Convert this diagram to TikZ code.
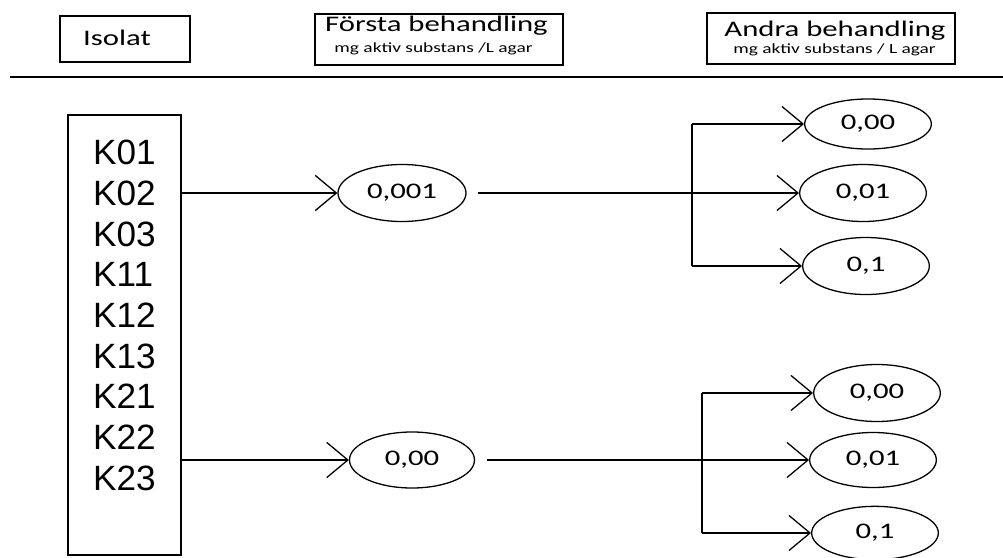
\documentclass[tikz,border=0pt]{standalone}
\usepackage{fontspec}
\newfontfamily\hdrfont[FakeStretch=1.38]{Carlito}
\newfontfamily\listfont{Liberation Sans}
\usetikzlibrary{shapes.geometric,arrows.meta}

\tikzset{
  hbox/.style={draw,line width=1.2pt,inner sep=0pt},
  htitle/.style={inner sep=0pt,anchor=base,font=\hdrfont\fontsize{19}{21}\selectfont},
  hsub/.style={inner sep=0pt,anchor=base,font=\hdrfont\fontsize{12}{14}\selectfont},
  dose/.style={draw,ellipse,line width=1.1pt,inner sep=0pt,minimum width=3.8cm,minimum height=1.65cm,font=\hdrfont\fontsize{19}{21}\selectfont},
  flow/.style={line width=1.1pt,-{Straight Barb[length=18pt,width=30pt,line width=1.1pt]}},
}

\begin{document}
\begin{tikzpicture}[x=0.03cm,y=-0.03cm]
	\useasboundingbox (0,0) rectangle (1003,558);
	\node[hbox,minimum width=3.9cm,minimum height=1.38cm] (isolat) at (125,39) {};
	\node[htitle] (isolatT) at (117,45) {Isolat};
	\node[hbox,minimum width=7.44cm,minimum height=1.53cm] (forsta) at (439,39.5) {};
	\node[htitle] (forstaT) at (436.5,31) {Första behandling};
	\node[hsub] (forstaS) at (433.5,52) {mg aktiv substans /L agar};
	\node[hbox,minimum width=7.44cm,minimum height=1.53cm] (andra) at (831,38.5) {};
	\node[htitle] (andraT) at (835,36) {Andra behandling};
	\node[hsub] (andraS) at (834.5,53) {mg aktiv substans / L agar};
	\draw[line width=1.6pt] (10,77) -- (1003,77);

	\node[hbox,minimum width=3.39cm,minimum height=13.2cm] (kbox) at (124.5,335) {};
	\node[inner sep=0pt,anchor=north west,align=left,font=\listfont\fontsize{30}{34.7}\selectfont] (klist) at (93,140)
		{K01\\K02\\K03\\K11\\K12\\K13\\K21\\K22\\K23};

	\node[dose,minimum width=3.84cm,minimum height=1.71cm] (first1) at (402,193) {0,001};
	\node[dose,minimum width=3.75cm,minimum height=1.68cm] (first2) at (412,460) {0,00};

	\node[dose,minimum height=1.5cm] (a1) at (868,124) {0,00};
	\node[dose,minimum height=1.71cm] (a2) at (863,193) {0,01};
	\node[dose,minimum height=1.71cm] (a3) at (866,266) {0,1};
	\node[dose,minimum height=1.71cm] (b1) at (877,393) {0,00};
	\node[dose] (b2) at (873,460) {0,01};
	\node[dose,minimum height=1.6cm] (b3) at (875,533) {0,1};

	\coordinate (fork1) at (692,193);
	\coordinate (fork2) at (702,460);

	\draw[flow] (kbox.east |- first1) -- (first1.west);
	\draw[flow] (kbox.east |- first2) -- (first2.west);

	\draw[flow,shorten <=10pt] (first1.east) -- (a2.west);
	\draw[line width=1.1pt] (fork1 |- a1) -- (fork1 |- a3);
	\draw[flow] (fork1 |- a1) -- (a1.west);
	\draw[flow] (fork1 |- a3) -- (a3.west);

	\draw[flow,shorten <=10pt] (first2.east) -- (b2.west);
	\draw[line width=1.1pt] (fork2 |- b1) -- (fork2 |- b3);
	\draw[flow] (fork2 |- b1) -- (b1.west);
	\draw[flow] (fork2 |- b3) -- (b3.west);
\end{tikzpicture}
\end{document}
